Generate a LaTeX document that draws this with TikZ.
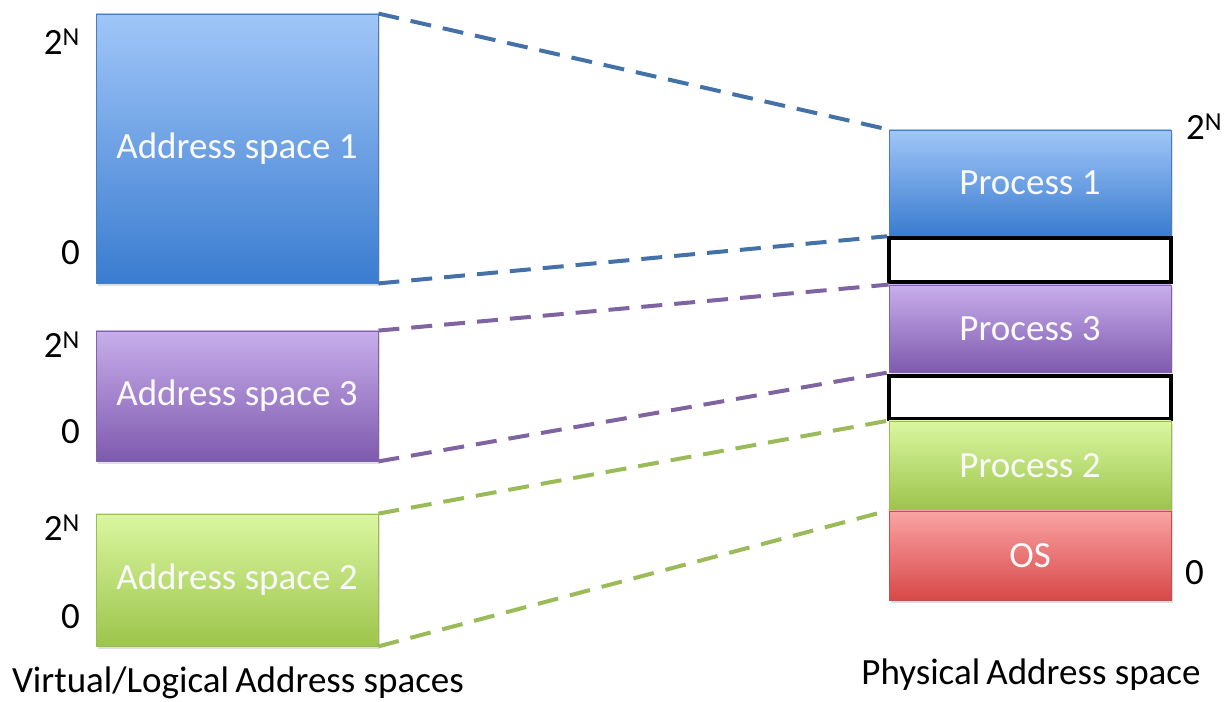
\documentclass[tikz,border=0pt]{standalone}
\usepackage{fontspec}
\setmainfont{Carlito}
\usetikzlibrary{shadows}
\definecolor{bluetop}{HTML}{A0C6F8}
\definecolor{bluemid}{HTML}{80AEEC}
\definecolor{bluebot}{HTML}{3A7CD0}
\definecolor{blueline}{HTML}{4A7EBB}
\definecolor{purptop}{HTML}{C8AEEC}
\definecolor{purpmid}{HTML}{AE90DC}
\definecolor{purpbot}{HTML}{7E5AAE}
\definecolor{purpline}{HTML}{8064A2}
\definecolor{greentop}{HTML}{DAF7A0}
\definecolor{greenmid}{HTML}{C4E682}
\definecolor{greenbot}{HTML}{9DC44C}
\definecolor{greenline}{HTML}{9BBB59}
\definecolor{redtop}{HTML}{FAA3A3}
\definecolor{redmid}{HTML}{F08080}
\definecolor{redbot}{HTML}{D84848}
\definecolor{redline}{HTML}{C0504D}
\tikzset{
  x=1pt, y=1pt,
  seg/.style={rectangle, minimum width=282pt, inner sep=0pt, text=white!96!gray,
    font=\fontsize{37}{42}\selectfont,
    drop shadow={shadow xshift=2pt, shadow yshift=-3pt, opacity=0.25}},
  bluebox/.style={seg, top color=bluetop, middle color=bluemid, bottom color=bluebot, draw=blueline, line width=0.8pt},
  purpbox/.style={seg, top color=purptop, middle color=purpmid, bottom color=purpbot, draw=purpline, line width=0.8pt},
  greenbox/.style={seg, top color=greentop, middle color=greenmid, bottom color=greenbot, draw=greenline, line width=0.8pt},
  redbox/.style={seg, top color=redtop, middle color=redmid, bottom color=redbot, draw=redline, line width=0.8pt},
  freebox/.style={rectangle, minimum width=282pt, inner sep=0pt, fill=white, draw=black, line width=3.5pt},
  lbl/.style={font=\fontsize{37}{42}\selectfont, inner sep=0pt},
  map/.style={line width=4pt, dash pattern=on 21pt off 12pt}
}
\begin{document}
\begin{tikzpicture}
\useasboundingbox (0,0) rectangle (1225,701);
% left
\node[bluebox, minimum height=269pt] (as1) at (237,552.5) {Address space 1};
\node[purpbox, minimum height=130pt] (as3) at (237,305) {Address space 3};
\node[greenbox, minimum height=132pt] (as2) at (237,121) {Address space 2};
% right
\node[bluebox, minimum height=105pt] (p1) at (1030,518.5) {Process 1};
\node[freebox, minimum height=44pt] (e1) at (1030,441) {};
\node[purpbox, minimum height=87pt] (p3) at (1030,372.5) {Process 3};
\node[freebox, minimum height=43pt] (e2) at (1030,303.5) {};
\node[greenbox, minimum height=89pt] (p2) at (1030,235.5) {Process 2};
\node[redbox, minimum height=89pt] (os) at (1030,145.5) {OS};
% mapping lines
\draw[map, blueline!90!black] (as1.north east) -- (p1.north west);
\draw[map, blueline!90!black] (as1.south east) -- (e1.north west);
\draw[map, purpline] (as3.north east) -- (p3.north west);
\draw[map, purpline] (as3.south east) -- (p3.south west);
\draw[map, greenline] (as2.north east) -- (p2.north west);
\draw[map, greenline] (as2.south east) -- (p2.south west);
% bounds labels
\node[lbl, anchor=east] (l1t) at (80,659) {2\textsuperscript{N}};
\node[lbl, anchor=east] (l1b) at (80,448) {0};
\node[lbl, anchor=east] (l3t) at (80,356) {2\textsuperscript{N}};
\node[lbl, anchor=east] (l3b) at (80,269) {0};
\node[lbl, anchor=east] (l2t) at (80,173) {2\textsuperscript{N}};
\node[lbl, anchor=east] (l2b) at (80,84) {0};
\node[lbl, anchor=west] (rt) at (1186,574) {2\textsuperscript{N}};
\node[lbl, anchor=west] (rb) at (1185,128) {0};
% captions
\node[lbl] (vcap) at (238,18) {Virtual/Logical\,Address spaces};
\node[lbl] (pcap) at (1031,26) {Physical\,Address space};
\end{tikzpicture}
\end{document}
